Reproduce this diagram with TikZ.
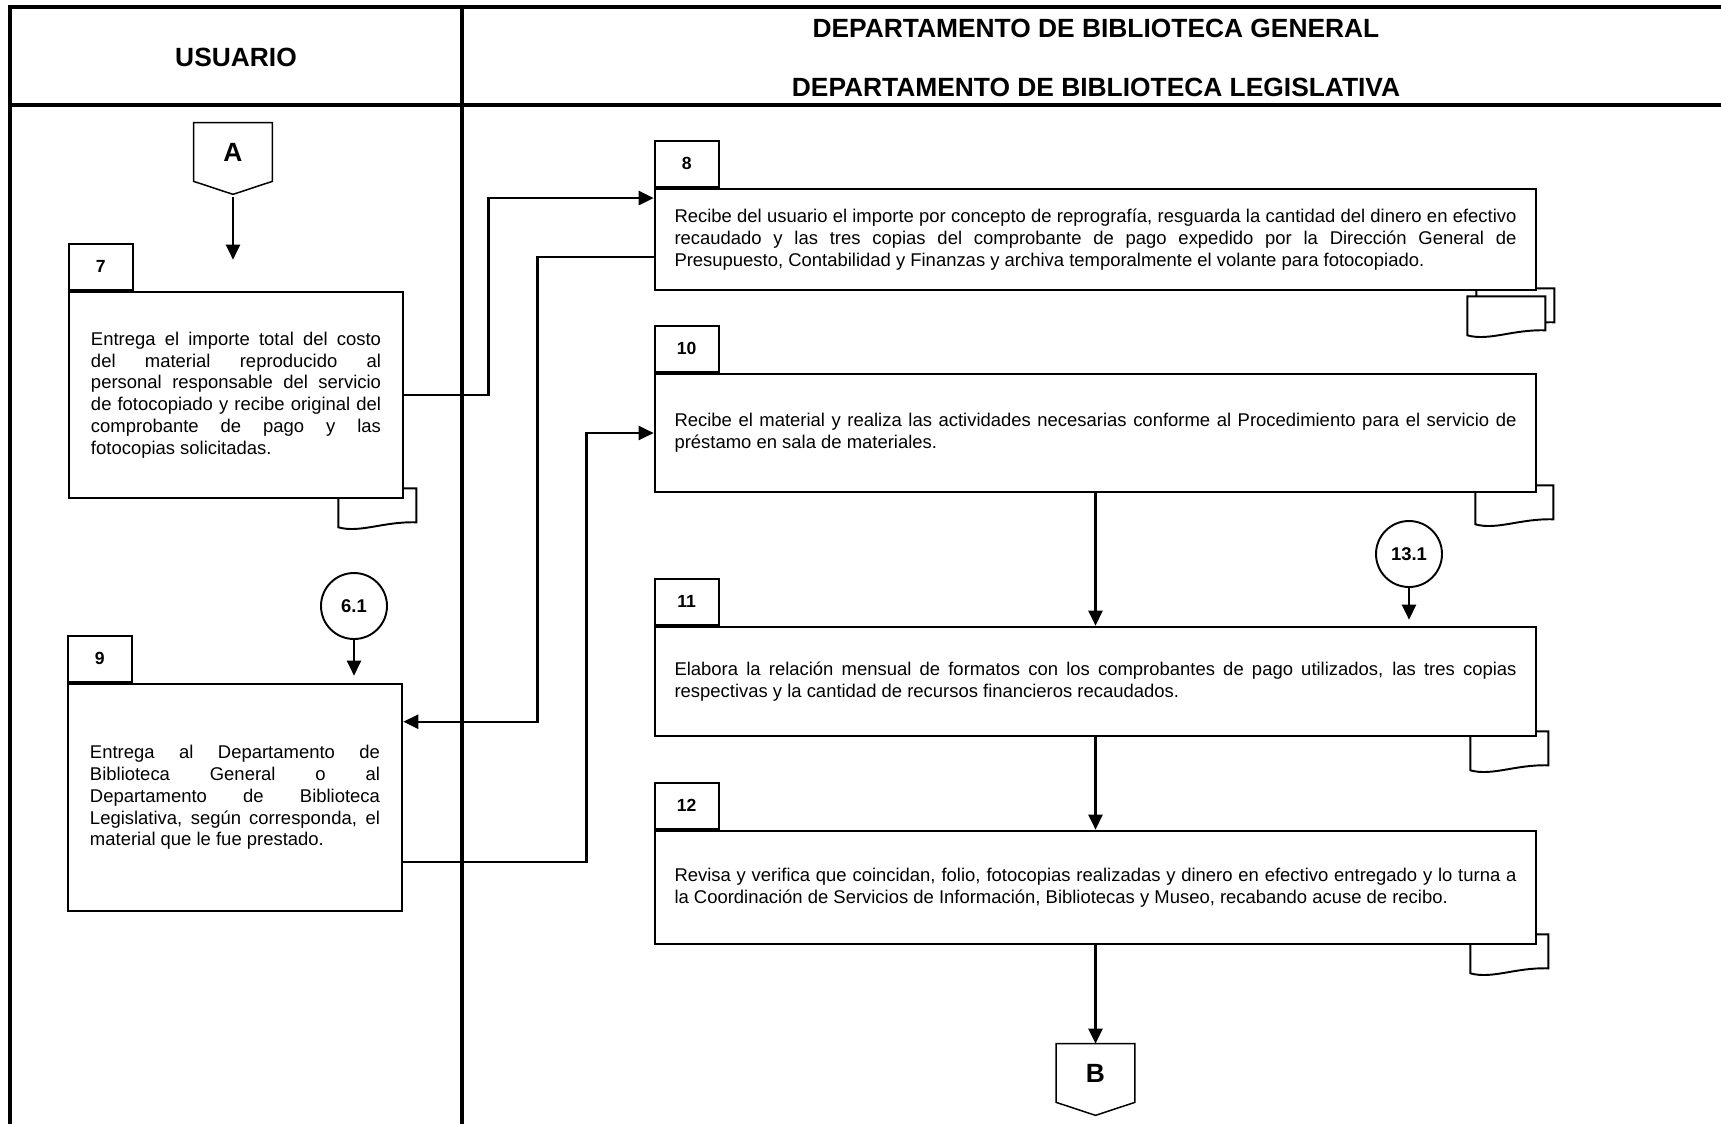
\documentclass[tikz,border=0pt]{standalone}
\usepackage{fontspec}
\setmainfont{Liberation Sans}
\usetikzlibrary{arrows.meta,positioning,calc,backgrounds}

% off-page connector drawn round a named node
\newcommand\offpage[1]{\draw[line width=0.85pt] (#1.north west) -- (#1.north east) -- (#1.south east) -- ($(#1.south)+(0,13)$) -- (#1.south west) -- cycle;}

\begin{document}
\begin{tikzpicture}[
  x=0.2mm,y=-0.2mm,
  font=\fontsize{10.5}{12.4}\selectfont,
  frame/.style={line width=2pt},
  head/.style={font=\bfseries\fontsize{15}{18}\selectfont},
  box/.style={draw,line width=1.5pt,fill=white,align=justify,inner sep=0pt,
    execute at begin node={\tolerance=10000\hyphenpenalty=10000}},
  lbox/.style={box,minimum width=66.8mm,text width=58mm},
  rbox/.style={box,minimum width=176.2mm,text width=168.4mm},
  tab/.style={draw,line width=1.1pt,minimum width=12.8mm,minimum height=9.2mm,inner sep=0pt,
    anchor=south west,font=\bfseries\fontsize{10}{12}\selectfont},
  ref/.style={circle,draw,line width=1.1pt,minimum size=13.2mm,inner sep=0pt,
    font=\bfseries\fontsize{10.5}{12}\selectfont},
  conn/.style={minimum width=15.6mm,minimum height=11.6mm,inner sep=0pt,
    font=\bfseries\fontsize{15}{18}\selectfont},
  arr/.style={line width=1.4pt,-{Triangle[length=3mm,width=2.8mm]}},
  docsym/.pic={\draw[line width=1.1pt,fill=white] (0,0) -- (0,39) .. controls (22,45) and (45,33) .. (78,34) -- (78,0) -- cycle;}
]
\useasboundingbox (0,0) rectangle (1721,1124);
% table frame
\draw[frame] (1721,7) -- (10,7) -- (10,1124);
\draw[frame] (10,105) -- (1721,105);
\draw[frame] (462,7) -- (462,1124);
\node[head] (usr) at (236,57) {USUARIO};
\node[head] (dep1) at (1096,28) {DEPARTAMENTO DE BIBLIOTECA GENERAL};
\node[head] (dep2) at (1096,87) {DEPARTAMENTO DE BIBLIOTECA LEGISLATIVA};
% usuario
\node[conn] (A) at (233,152) {A};
\offpage{A}
\node[lbox,minimum height=41.2mm] (b7) at (236,395) {Entrega el importe total del costo\linebreak
  del material reproducido al\linebreak personal responsable del servicio\linebreak
  de fotocopiado y recibe original del\linebreak comprobante de pago y las\linebreak
  fotocopias solicitadas.};
\node[tab] (t7) at (b7.north west) {7};
\node[ref] (c61) at (354,606) {6.1};
\node[lbox,minimum height=45.4mm] (b9) at (235,797.5) {Entrega al Departamento de\linebreak
  Biblioteca General o al\linebreak Departamento de Biblioteca\linebreak
  Legislativa, según corresponda, el\linebreak material que le fue prestado.};
\node[tab] (t9) at (b9.north west) {9};
% departamentos
\node[rbox,minimum height=20.2mm] (b8) at (1095.5,239.5) {Recibe del usuario el importe por concepto de reprografía, resguarda la cantidad del dinero en efectivo\linebreak
  recaudado y las tres copias del comprobante de pago expedido por la Dirección General de\linebreak
  Presupuesto, Contabilidad y Finanzas y archiva temporalmente el volante para fotocopiado.};
\node[tab] (t8) at (b8.north west) {8};
\node[rbox,minimum height=23.6mm] (b10) at (1095.5,433) {Recibe el material y realiza las actividades necesarias conforme al Procedimiento para el servicio de\linebreak
  préstamo en sala de materiales.};
\node[tab] (t10) at (b10.north west) {10};
\node[ref] (c131) at (1409,554) {13.1};
\node[rbox,minimum height=21.8mm] (b11) at (1095.5,681.5) {Elabora la relación mensual de formatos con los comprobantes de pago utilizados, las tres copias\linebreak
  respectivas y la cantidad de recursos financieros recaudados.};
\node[tab] (t11) at (b11.north west) {11};
\node[rbox,minimum height=22.6mm] (b12) at (1095.5,887.5) {Revisa y verifica que coincidan, folio, fotocopias realizadas y dinero en efectivo entregado y lo turna a\linebreak
  la Coordinación de Servicios de Información, Bibliotecas y Museo, recabando acuse de recibo.};
\node[tab] (t12) at (b12.north west) {12};
\node[conn] (B) at (1095.5,1073) {B};
\offpage{B}
% documents behind the boxes
\begin{scope}[on background layer]
\pic at ($(b7.south east)+(-66,-11)$) {docsym};
\pic at ($(b8.south east)+(-61,-3)$) {docsym};
\pic at ($(b8.south east)+(-70,5)$) {docsym};
\pic at ($(b10.south east)+(-62,-8)$) {docsym};
\pic at ($(b11.south east)+(-67,-6)$) {docsym};
\pic at ($(b12.south east)+(-67,-11)$) {docsym};
\end{scope}
% flow
\draw[arr,shorten <=3.2mm,shorten >=6.2mm] (A.south) -- (A.south |- b7.north);
\draw[arr] (b7.east) -- ++(84,0) |- ($(b8.north west)!.1!(b8.south west)$);
\draw[arr] ($(b8.north west)!.67!(b8.south west)$) -- ++(-116,0) |- ($(b9.north east)!.17!(b9.south east)$);
\draw[arr,shorten >=1.4mm] (c61) -- (c61 |- b9.north);
\draw[arr] ($(b9.north east)!.78!(b9.south east)$) -- ++(183,0) |- (b10.west);
\draw[arr] (b10.south) -- (b11.north);
\draw[arr,shorten >=1.2mm] (c131) -- (c131 |- b11.north);
\draw[arr] (b11.south) -- (b12.north);
\draw[arr] (b12.south) -- (B.north);
\end{tikzpicture}
\end{document}
